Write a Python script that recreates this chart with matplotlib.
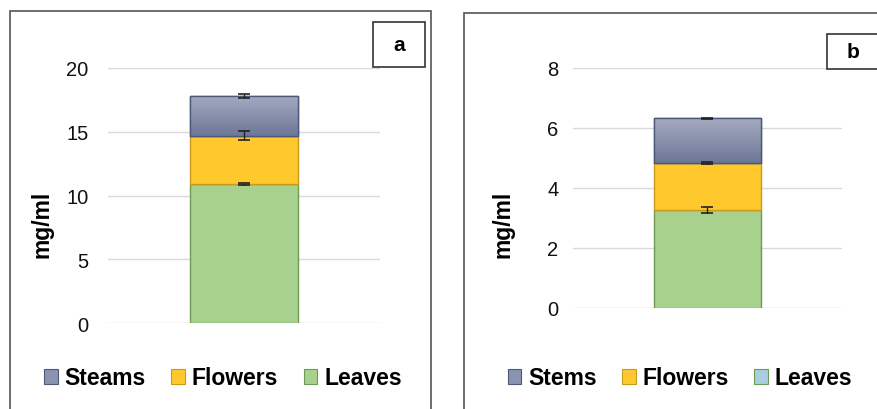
import matplotlib
matplotlib.use("Agg")
import matplotlib.pyplot as plt
import numpy as np
from matplotlib.patches import Rectangle, Patch
from matplotlib.colors import LinearSegmentedColormap

plt.rcParams['font.family'] = ['Liberation Sans', 'DejaVu Sans']

# Panel a data
a_labels = ["Leaves", "Flowers", "Steams"]
a_values = [10.9, 3.77, 3.16]
a_errors = [0.1, 0.35, 0.15]
a_yticks = [0, 5, 10, 15, 20]

# Panel b data
b_labels = ["Leaves", "Flowers", "Stems"]
b_values = [3.27, 1.56, 1.5]
b_errors = [0.1, 0.04, 0.02]
b_yticks = [0, 2, 4, 6, 8]

fill_colors = ["#a9d18e", "#ffc92e", None]
edge_colors = ["#6e9a57", "#c99a1a", "#4e5878"]
legend_leaves_b = "#a8cfe0"

W, H = 878, 410
fig = plt.figure(figsize=(W / 100, H / 100), dpi=100)

def px(x0, y0, x1, y1):
    return [x0 / W, 1 - y1 / H, (x1 - x0) / W, (y1 - y0) / H]

# outer frames
fig.patches.append(Rectangle((10 / W, -0.1), (431 - 10) / W, 1 - 12 / H + 0.1,
                             transform=fig.transFigure, fill=False, ec="#555555", lw=1.2))
fig.patches.append(Rectangle((464 / W, -0.1), 0.5, 1 - 14 / H + 0.1,
                             transform=fig.transFigure, fill=False, ec="#555555", lw=1.2))


def draw_panel(rect, labels, values, errors, yticks, tickpad, legend_colors, leg_anchor, ylab_x, letter, box):
    ax = fig.add_axes(rect)
    bottom = 0.0
    for i, (lab, v, e) in enumerate(zip(labels, values, errors)):
        fc = fill_colors[i] if fill_colors[i] else "#8a93b0"
        bars = ax.bar([0], [v], bottom=[bottom], width=0.4, color=fc,
                      edgecolor=edge_colors[i], linewidth=1, zorder=2)
        if fill_colors[i] is None:
            p = bars[0]
            grad = np.linspace(0, 1, 100).reshape(-1, 1)
            cmap = LinearSegmentedColormap.from_list("g", ["#6d7797", "#a4aac0"])
            im = ax.imshow(grad, extent=[p.get_x(), p.get_x() + p.get_width(),
                                         p.get_y(), p.get_y() + p.get_height()],
                           origin="lower", cmap=cmap, aspect="auto", zorder=2.5)
            im.set_clip_path(p)
            ax.add_patch(Rectangle((p.get_x(), p.get_y()), p.get_width(), p.get_height(),
                                   fill=False, ec=edge_colors[i], lw=1, zorder=2.6))
        bottom += v
        ax.errorbar([0], [bottom], yerr=[e], fmt="none", ecolor="#222222",
                    elinewidth=1, capsize=4, capthick=1.2, zorder=3)
    ax.set_xlim(-0.5, 0.5)
    ax.set_ylim(yticks[0], yticks[-1])
    ax.set_yticks(yticks)
    ax.set_xticks([])
    ax.yaxis.grid(True, color="#d9d9d9", lw=1)
    ax.set_axisbelow(True)
    for s in ax.spines.values():
        s.set_visible(False)
    ax.tick_params(axis="y", length=0, pad=tickpad, labelsize=14.5, labelcolor="#111111")
    ax.patch.set_alpha(0)

    fig.text(ylab_x / W, 1 - 224 / H, "mg/ml", rotation=90, ha="center", va="center",
             fontsize=16.5, fontweight="bold")

    hs = [Patch(facecolor=legend_colors[i], edgecolor=edge_colors[i], lw=0.8, label=labels[i])
          for i in range(len(labels))][::-1]
    fig.legend(handles=hs, loc="center", bbox_to_anchor=(leg_anchor / W, 1 - 379 / H),
               ncol=3, frameon=False, prop={"size": 16.5, "weight": "bold"},
               handlelength=0.6, handleheight=0.6, handletextpad=0.3, columnspacing=1.1,
               borderaxespad=0)

    x0, y0, x1, y1 = box
    fig.patches.append(Rectangle((x0 / W, 1 - y1 / H), (x1 - x0) / W, (y1 - y0) / H,
                                 transform=fig.transFigure, fc="white", ec="#333333", lw=1.2))
    fig.text((x0 + x1) / 2 / W, 1 - (y0 + y1) / 2 / H, letter, ha="center", va="center",
             fontsize=15, fontweight="bold")
    return ax


draw_panel(px(108, 69, 380, 324), a_labels, a_values, a_errors, a_yticks, 14,
           ["#a9d18e", "#ffc92e", "#8a93b0"], 223, 42, "a", (373, 23, 425, 68))
draw_panel(px(573, 69, 842, 309), b_labels, b_values, b_errors, b_yticks, 10.5,
           [legend_leaves_b, "#ffc92e", "#8a93b0"], 680, 503, "b", (827, 35, 880, 70))

fig.savefig("out.png", dpi=100)
